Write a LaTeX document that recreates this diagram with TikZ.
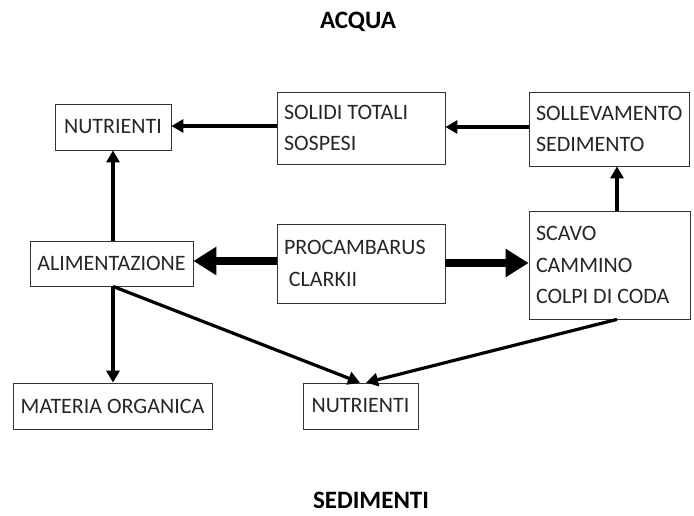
\documentclass[tikz,border=0pt]{standalone}
\usepackage{fontspec}
\setmainfont{Carlito}
\usetikzlibrary{arrows.meta}
\begin{document}
\begin{tikzpicture}[x=1pt,y=-1pt,
  box/.style={draw=black!80,line width=0.8pt,inner sep=0pt,font=\fontsize{22}{31.5}\selectfont,text=black!85},
  multi/.style={box,align=flush left},
  thin/.style={line width=3.2pt,-{Triangle[length=12pt,width=13pt]}},
  fat/.style={line width=8pt,-{Triangle[length=23pt,width=27pt]}},
  title/.style={font=\fontsize{25}{29}\bfseries\selectfont,inner sep=1pt}]
\useasboundingbox (0,0) rectangle (694,515);
\node[title] (acqua) at (358,22) {ACQUA};
\node[title] (sed) at (371,500) {SEDIMENTI};
\node[box,minimum width=116pt,minimum height=46pt] (nutA) at (113,127) {NUTRIENTI};
\node[multi,minimum width=168pt,minimum height=72pt,text width=154pt] (solidi) at (361,128) {SOLIDI TOTALI\\SOSPESI};
\node[multi,minimum width=160pt,minimum height=74pt,text width=146pt] (sollev) at (609,129) {SOLLEVAMENTO\\SEDIMENTO};
\node[box,minimum width=163pt,minimum height=45pt] (alim) at (111.5,263.5) {ALIMENTAZIONE};
\node[multi,minimum width=168pt,minimum height=79pt,text width=154pt] (proc) at (361,263.5) {PROCAMBARUS\\\ CLARKII};
\node[multi,minimum width=161pt,minimum height=108pt,text width=147pt] (scavo) at (609.5,265) {SCAVO\\CAMMINO\\COLPI DI CODA};
\node[box,minimum width=199pt,minimum height=46pt] (mat) at (112.5,406) {MATERIA ORGANICA};
\node[box,minimum width=115pt,minimum height=46pt] (nutB) at (360.5,406) {NUTRIENTI};
\draw[thin] (solidi.west |- 0,126) -- (nutA.east |- 0,126);
\draw[thin] (sollev.west |- 0,127) -- (solidi.east |- 0,127);
\draw[thin] (scavo.north -| 617,0) -- (sollev.south -| 617,0);
\draw[thin] (alim.north -| 113,0) -- (nutA.south -| 113,0);
\draw[thin] (alim.south -| 113,0) -- (mat.north -| 113,0);
\draw[thin] (alim.south -| 113,0) -- (nutB.north -| 360,0);
\draw[thin] (scavo.south -| 617,0) -- (nutB.north -| 366,0);
\draw[fat] (proc.west |- 0,261) -- (alim.east |- 0,261);
\draw[fat] (proc.east |- 0,263) -- (scavo.west |- 0,263);
\end{tikzpicture}
\end{document}
